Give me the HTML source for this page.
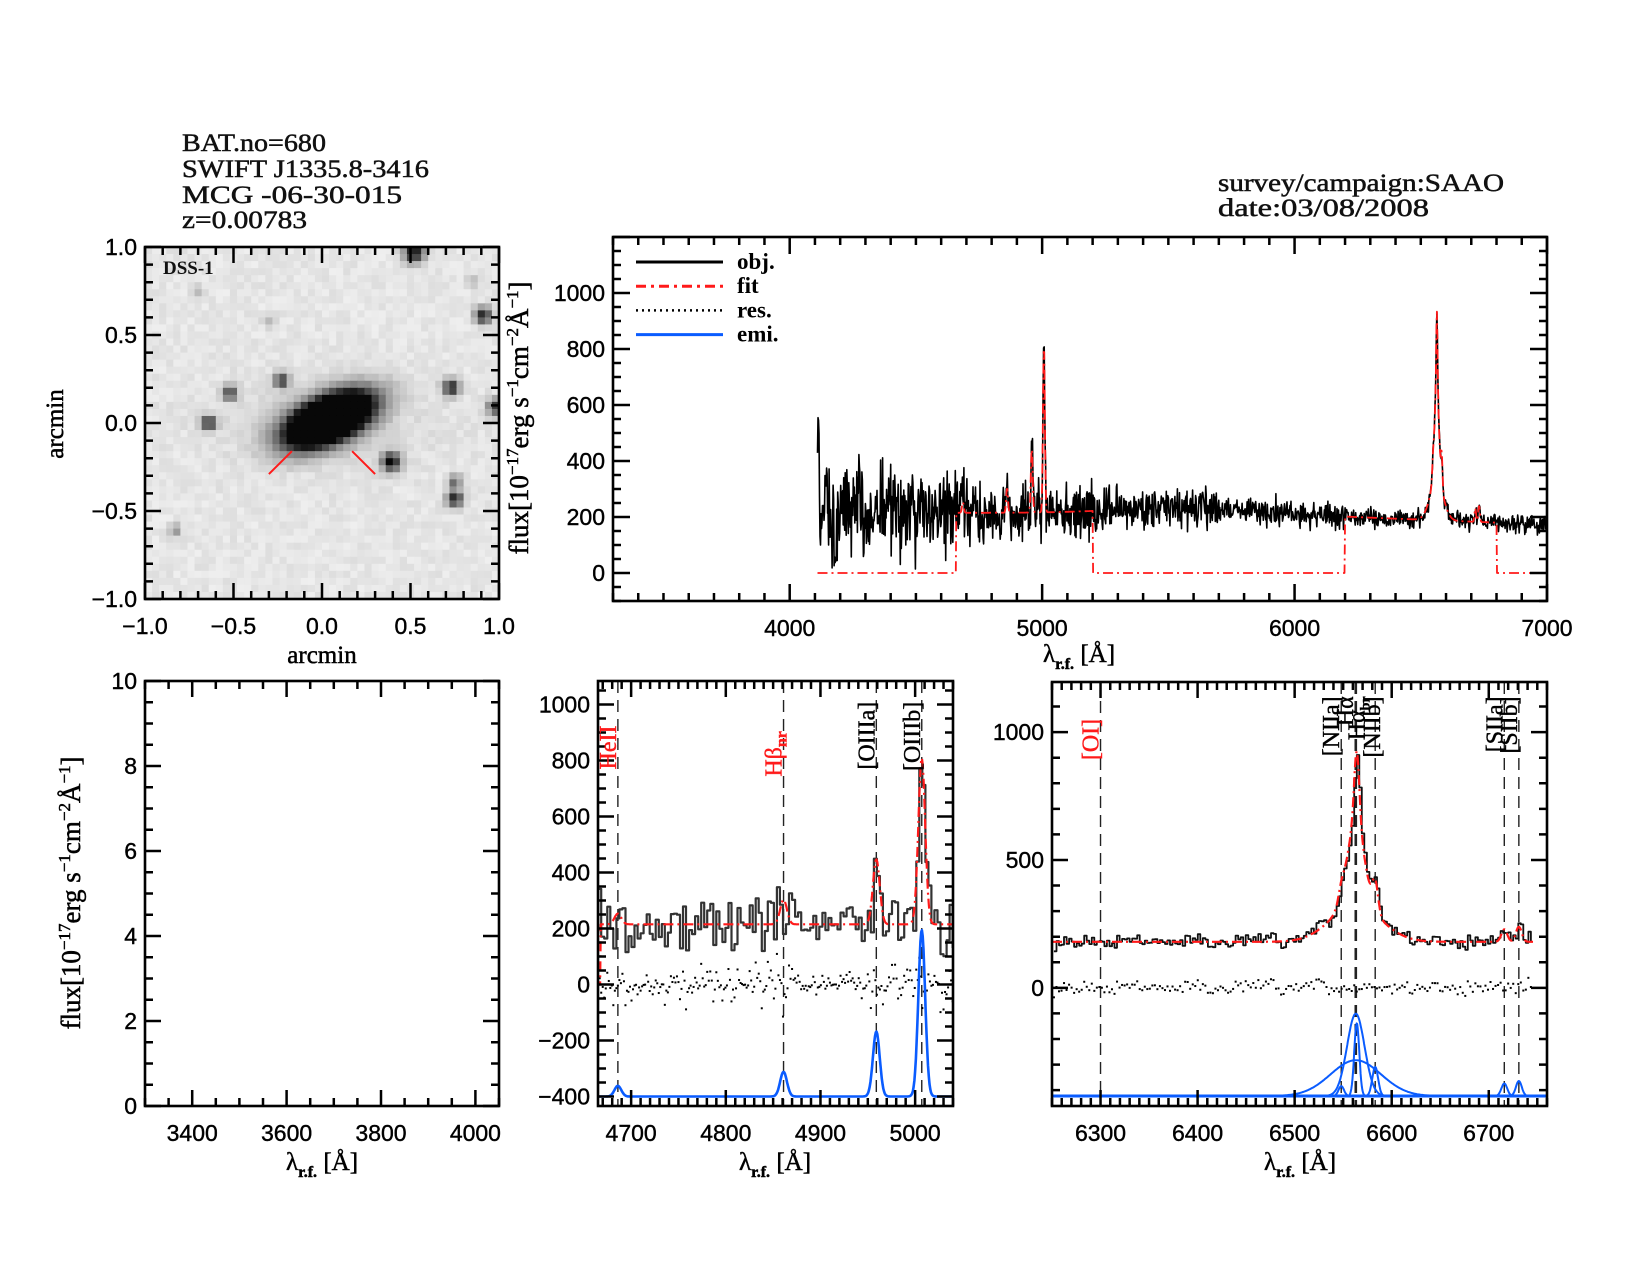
<!DOCTYPE html>
<html><head><meta charset="utf-8"><style>
html,body{margin:0;padding:0;background:#fff;}
svg{display:block;}
</style></head><body>
<svg id="c" xmlns="http://www.w3.org/2000/svg" width="1650" height="1275" viewBox="0 0 1650 1275" font-family="Liberation Sans, sans-serif">
<rect width="1650" height="1275" fill="#fff"/>
<g font-family="Liberation Serif, serif" font-size="25" fill="#111" stroke="#111" stroke-width="0.5">
<text x="182" y="151" textLength="144" lengthAdjust="spacingAndGlyphs">BAT.no=680</text>
<text x="182" y="177" textLength="247" lengthAdjust="spacingAndGlyphs">SWIFT J1335.8-3416</text>
<text x="182" y="203" textLength="220" lengthAdjust="spacingAndGlyphs">MCG -06-30-015</text>
<text x="182" y="228" textLength="125" lengthAdjust="spacingAndGlyphs">z=0.00783</text>
<text x="1218" y="191" textLength="286" lengthAdjust="spacingAndGlyphs">survey/campaign:SAAO</text>
<text x="1218" y="216" textLength="211" lengthAdjust="spacingAndGlyphs">date:03/08/2008</text>
</g>
</svg>
<script>
(function(){
var svg=document.getElementById('c'),NS='http://www.w3.org/2000/svg';
var SERIF='Liberation Serif, serif';
function el(t,a,txt,par){var e=document.createElementNS(NS,t);for(var k in a)e.setAttribute(k,a[k]);if(txt!=null)e.textContent=txt;(par||svg).appendChild(e);return e;}
var seed=12345;function rnd(){seed=(seed*16807)%2147483647;return seed/2147483647;}
function gn(){return (rnd()+rnd()+rnd()+rnd()-2)*1.73;}
function g(w,c,s){var d=(w-c)/s;return Math.exp(-0.5*d*d);}
var clipN=0;
function Axes(o){
 o.sx=function(v){return o.x0+(v-o.xmin)/(o.xmax-o.xmin)*(o.x1-o.x0);};
 o.sy=function(v){return o.y1-(v-o.ymin)/(o.ymax-o.ymin)*(o.y1-o.y0);};
 var id='cl'+(clipN++);var cp=el('clipPath',{id:id});el('rect',{x:o.x0,y:o.y0,width:o.x1-o.x0,height:o.y1-o.y0},null,cp);
 o.g=el('g',{'clip-path':'url(#'+id+')'});
 return o;
}
var TL={'font-size':23,stroke:'#000','stroke-width':0.4};
function frame(o){
 var d='',ML=o.ml||16,mL=o.mnl||8,v,X,Y;
 var st=Math.ceil(o.xmin/o.xmi-1e-9);
 for(var i=st;i*o.xmi<=o.xmax+1e-9;i++){v=i*o.xmi;X=o.sx(v);var maj=Math.abs(v/o.xma-Math.round(v/o.xma))<1e-6;var L=maj?ML:mL;
  d+='M'+X+' '+o.y1+'v'+(-L)+'M'+X+' '+o.y0+'v'+L;
  if(maj)el('text',{x:X,y:o.y1+35,'font-size':23,stroke:'#000','stroke-width':0.4,'text-anchor':'middle'},o.xf?o.xf(v):String(v).replace('-','\u2212'));}
 st=Math.ceil(o.ymin/o.ymi-1e-9);
 for(var i=st;i*o.ymi<=o.ymax+1e-9;i++){v=i*o.ymi;Y=o.sy(v);var maj=Math.abs(v/o.yma-Math.round(v/o.yma))<1e-6;var L=maj?ML:mL;
  d+='M'+o.x0+' '+Y+'h'+L+'M'+o.x1+' '+Y+'h'+(-L);
  if(maj&&(o.ylmax==null||v<=o.ylmax))el('text',{x:o.x0-8,y:Y+8,'font-size':23,stroke:'#000','stroke-width':0.4,'text-anchor':'end'},o.yf?o.yf(v):String(v).replace('-','\u2212'));}
 el('path',{d:d,stroke:'#000','stroke-width':2.5,fill:'none'});
 el('rect',{x:o.x0,y:o.y0,width:o.x1-o.x0,height:o.y1-o.y0,fill:'none',stroke:'#000','stroke-width':2.6});
}
function line(o,pts,attr,step){var d='';for(var i=0;i<pts.length;i++){var X=o.sx(pts[i][0]).toFixed(1),Y=o.sy(pts[i][1]).toFixed(1);
 if(step&&i>0){d+='H'+X+'V'+Y;}else d+=(i?'L':'M')+X+' '+Y;}
 attr.d=d;attr.fill='none';if(!attr['stroke-linejoin'])attr['stroke-linejoin']='round';el('path',attr,null,o.g);}
var RED='#ff1a1a',BLUE='#0a5cff';
function f1(v){return (v<0?'\u2212':'')+Math.abs(v).toFixed(1);}

// ===== image panel
var im=Axes({x0:145,x1:499,y0:247,y1:599,xmin:-1,xmax:1,ymin:-1,ymax:1,xma:0.5,xmi:0.1,yma:0.5,ymi:0.1,xf:f1,yf:f1});
var N=50,cw=(im.x1-im.x0)/N,ch=(im.y1-im.y0)/N;
var stars=[[0.52,0.97,0.05,1],[0.91,0.61,0.04,0.9],[-0.23,0.24,0.035,0.8],[-0.52,0.17,0.035,0.75],[-0.64,0.0,0.035,0.9],[0.73,0.2,0.04,0.9],[0.98,0.09,0.04,0.8],[0.39,-0.22,0.045,1],[0.75,-0.43,0.04,0.9],[0.75,-0.33,0.03,0.6],[-0.83,-0.61,0.03,0.4],[-0.7,0.75,0.03,0.2],[-0.3,0.58,0.03,0.2],[0.85,0.8,0.03,0.2]];
var ca=Math.cos(-0.42),sa=Math.sin(-0.42);
var ig=el('g',{},null,im.g);
for(var j=0;j<N;j++)for(var i=0;i<N;i++){
 var x=-1+(i+0.5)*2/N,y=1-(j+0.5)*2/N;
 var u=(x-0.04)*ca-(y-0.02)*sa,w=(x-0.04)*sa+(y-0.02)*ca;
 var r=Math.sqrt((u/0.25)*(u/0.25)+(w/0.12)*(w/0.12));
 var dk=r<1?1:Math.max(0,1.1*Math.exp(-(r-1)*2.6)-0.05);
 dk+=0.10*Math.exp(-(x*x+y*y*5)/0.3);
 for(var k=0;k<stars.length;k++){var s=stars[k];var dd=((x-s[0])*(x-s[0])+(y-s[1])*(y-s[1]))/(s[2]*s[2]);dk+=s[3]*Math.exp(-dd*0.7);}
 dk=Math.min(1,dk);
 var base=230+rnd()*18-9;var val=Math.round(base*(1-dk*0.97));val=Math.max(8,Math.min(250,val));
 el('rect',{x:(im.x0+i*cw).toFixed(2),y:(im.y0+j*ch).toFixed(2),width:(cw+0.6).toFixed(2),height:(ch+0.6).toFixed(2),fill:'rgb('+val+','+val+','+val+')'},null,ig);
}
el('path',{d:'M'+im.sx(-0.17)+' '+im.sy(-0.16)+'L'+im.sx(-0.3)+' '+im.sy(-0.29)+'M'+im.sx(0.17)+' '+im.sy(-0.16)+'L'+im.sx(0.3)+' '+im.sy(-0.29),stroke:RED,'stroke-width':2},null,im.g);
frame(im);
el('text',{x:163,y:274,'font-size':19,'font-family':SERIF,'font-weight':'bold',fill:'#111'},'DSS-1');
el('text',{x:322,y:663,'font-size':25,'font-family':SERIF,stroke:'#000','stroke-width':0.5,'text-anchor':'middle'},'arcmin');
el('text',{x:0,y:0,'font-size':25,'font-family':SERIF,stroke:'#000','stroke-width':0.5,'text-anchor':'middle',transform:'translate(63,424) rotate(-90)'},'arcmin');

function ylabel(x,y){var t=el('text',{x:0,y:0,'font-size':27,'font-family':SERIF,stroke:'#000','stroke-width':0.5,'text-anchor':'middle',transform:'translate('+x+','+y+') rotate(-90)'});
 t.innerHTML='flux[10<tspan dy="-10" font-size="17">\u221217</tspan><tspan dy="10">erg s</tspan><tspan dy="-10" font-size="17">\u22121</tspan><tspan dy="10">cm</tspan><tspan dy="-10" font-size="17">\u22122</tspan><tspan dy="10">\u00c5</tspan><tspan dy="-10" font-size="17">\u22121</tspan><tspan dy="10">]</tspan>';}
function xlabel(x,y){var t=el('text',{x:x,y:y,'font-size':25,'font-family':SERIF,stroke:'#000','stroke-width':0.5,'text-anchor':'middle'});
 t.innerHTML='\u03bb<tspan dy="7" font-size="16" font-weight="bold">r.f.</tspan><tspan dy="-7"> [\u00c5]</tspan>';}

// ===== models
function contT(w){return 215+18*g(w,5550,250)-(w>5800?(w-5800)*0.035:0);}
function lines4(w){return 595*g(w,5007,3.6)+232*g(w,4959,3.6)+88*g(w,4861,3.6)+38*g(w,4686,3.6);}
function lines6(w){return 140*g(w,6563,26)+322*g(w,6563,9)+285*g(w,6564,2.6)+39*g(w,6548,2.8)+114*g(w,6583,3)+49*g(w,6716,3)+59*g(w,6731,3);}
function emi(w){return lines4(w)+lines6(w);}
function namp(w){return w<4300?95:w<4700?75:w<5000?55:w<5300?45:w<5700?35:w<6200?22:15;}

// ===== top spectrum
var T=Axes({x0:613,x1:1547,y0:237,y1:601,xmin:3300,xmax:7000,ymin:-100,ymax:1200,xma:1000,xmi:100,yma:200,ymi:50,ml:17,ylmax:1100});
var pts=[];
for(var w=4110;w<=7000;w+=2){var v=contT(w)+emi(w)+gn()*namp(w);if(w<4118)v=380+rnd()*180;if(Math.abs(w-4180)<6)v=20+rnd()*60;pts.push([w,v]);}
line(T,pts,{stroke:'#000','stroke-width':1.6});
var fp=[];for(var w=4110;w<=7000;w+=2){var inA=(w>=4660&&w<=5200)||(w>=6200&&w<=6800);fp.push([w,inA?contT(w)+emi(w):0]);}
line(T,fp,{stroke:RED,'stroke-width':1.8,'stroke-dasharray':'10 4 2 4'});
frame(T);
ylabel(528,418);xlabel(1079,662);
var lg=[['obj.',{stroke:'#000','stroke-width':3}],['fit',{stroke:RED,'stroke-width':3,'stroke-dasharray':'10 5 3 5'}],['res.',{stroke:'#000','stroke-width':2.5,'stroke-dasharray':'2 4'}],['emi.',{stroke:BLUE,'stroke-width':3}]];
for(var i=0;i<4;i++){var yy=262+i*24.2;var a=lg[i][1];a.d='M636 '+yy+'H723';el('path',a);el('text',{x:737,y:yy+7,'font-size':23,'font-family':SERIF,'font-weight':'bold'},lg[i][0]);}

// ===== bottom left
var B1=Axes({x0:145,x1:499,y0:681,y1:1106,xmin:3300,xmax:4050,ymin:0,ymax:10,xma:200,xmi:50,yma:2,ymi:0.5});
frame(B1);ylabel(80,893);xlabel(322,1170);

// ===== bottom middle
var B2=Axes({x0:598,x1:953,y0:681,y1:1106,xmin:4665,xmax:5040,ymin:-434,ymax:1084,xma:100,xmi:10,yma:200,ymi:50});
var ob=[],rs=[],ft=[];
for(var w=4662;w<=5042;w+=3.2){var f=(w<4668?0:215+lines4(w));var n=gn()*55;if(w<4668){ob.push([w,235+n]);}else ob.push([w,f+n]);rs.push([w,n*(0.6+0.4*rnd())]);}
for(var w=4660;w<=5042;w+=0.8){ft.push([w,w<4668?0:215+lines4(w)]);}
var bl=[];for(var w=4660;w<=5042;w+=0.8)bl.push([w,-400+lines4(w)]);
[4686,4861,4959,5007].forEach(function(c){el('path',{d:'M'+B2.sx(c)+' '+B2.y0+'V'+B2.y1,stroke:'#222','stroke-width':1.4,'stroke-dasharray':'12 7'},null,B2.g);});
// residual dots
var rg=el('g',{fill:'#000'},null,B2.g);
rs.forEach(function(p){var X=B2.sx(p[0]),Y=B2.sy(p[1]);el('rect',{x:X-1,y:Y-1,width:2,height:2},null,rg);el('rect',{x:B2.sx(p[0]+1.6)-1,y:B2.sy(p[1]*0.3)-1,width:2,height:2},null,rg);});
line(B2,ob,{stroke:'#333','stroke-width':2.2},true);
line(B2,ft,{stroke:RED,'stroke-width':2.2,'stroke-dasharray':'10 4 2 4'});
line(B2,bl,{stroke:BLUE,'stroke-width':2.6});
frame(B2);xlabel(775,1170);
function vlab(o,w,ytop,txt,col){var X=o.sx(w)-2,Y=o.sy(ytop);var t=el('text',{x:0,y:0,'font-size':24,'font-family':SERIF,fill:col,stroke:col,'stroke-width':0.4,'text-anchor':'end',transform:'translate('+X+','+Y+') rotate(-90)'});t.innerHTML=txt;}
vlab(B2,4686,925,'HeII',RED);
vlab(B2,4861,905,'H\u03b2<tspan dy="5" font-size="16" font-weight="bold">nr</tspan>',RED);
vlab(B2,4959,1010,'[OIIIa]','#000');
vlab(B2,5007,1010,'[OIIIb]','#000');

// ===== bottom right
var B3=Axes({x0:1052,x1:1547,y0:682,y1:1106,xmin:6250,xmax:6760,ymin:-462,ymax:1196,xma:100,xmi:10,yma:500,ymi:100});
var ob=[],rs=[],ft=[];
for(var w=6252;w<=6746;w+=2.6){var f=180+lines6(w);var n=gn()*14;if(w<6262)n-=30*(6262-w)/10;ob.push([w,f+n]);rs.push([w,n]);}
for(var w=6250;w<=6746;w+=0.6){ft.push([w,180+lines6(w)]);}
[6300,6548,6563,6583,6716,6731].forEach(function(c){el('path',{d:'M'+B3.sx(c)+' '+B3.y0+'V'+B3.y1,stroke:'#222','stroke-width':c==6563?2.6:1.4,'stroke-dasharray':'12 7'},null,B3.g);});
var rg3=el('g',{fill:'#000'},null,B3.g);
rs.forEach(function(p){el('rect',{x:B3.sx(p[0])-1,y:B3.sy(p[1])-1,width:2,height:2},null,rg3);});
line(B3,ob,{stroke:'#111','stroke-width':1.8},true);
line(B3,ft,{stroke:RED,'stroke-width':2.2,'stroke-dasharray':'10 4 2 4'});
var comps=[[140,6563,26],[322,6563,9],[285,6564,2.6],[39,6548,2.8],[114,6583,3],[49,6716,3],[59,6731,3]];
comps.forEach(function(c){var p=[];for(var w=6250;w<=6760;w+=0.6)p.push([w,-423+c[0]*g(w,c[1],c[2])]);line(B3,p,{stroke:BLUE,'stroke-width':2});});
el('path',{d:'M'+B3.x0+' '+B3.sy(-423)+'H'+B3.x1,stroke:BLUE,'stroke-width':3},null,B3.g);
frame(B3);xlabel(1300,1170);
vlab(B3,6300,1052,'[OI]',RED);
vlab(B3,6548,1140,'[NIIa]','#000');
vlab(B3,6562,1140,'H\u03b1','#000');
vlab(B3,6574,1140,'H\u03b1<tspan dy="5" font-size="14" font-weight="bold">br</tspan>','#000');
vlab(B3,6590,1140,'[NIIb]','#000');
vlab(B3,6716,1140,'[SIIa]','#000');
vlab(B3,6731,1140,'[SIIb]','#000');
})();
</script>
</body></html>
